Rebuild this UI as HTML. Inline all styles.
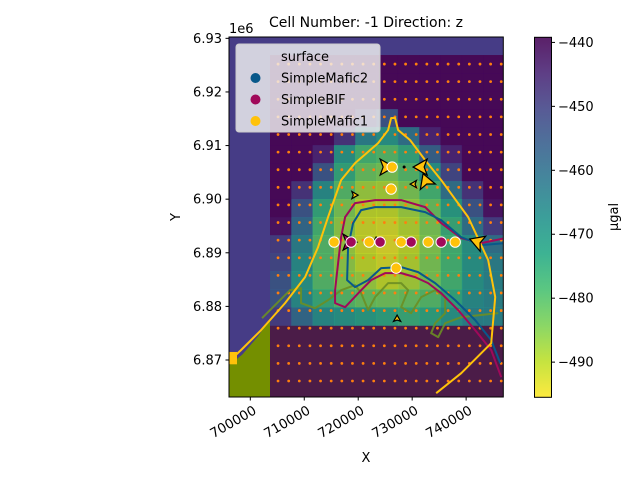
<!DOCTYPE html>
<html><head><meta charset="utf-8">
<style>
body{margin:0;background:#fff;}
svg{display:block;font-family:"DejaVu Sans","Liberation Sans",sans-serif;}
</style></head>
<body>
<svg id="chart" width="640" height="480" viewBox="0 0 640 480" xmlns="http://www.w3.org/2000/svg">
<defs>
<clipPath id="plotclip"><rect x="229" y="37" width="274.3" height="360"/></clipPath>
<linearGradient id="cbgrad" x1="0" y1="0" x2="0" y2="1">
<stop offset="0" stop-color="#440154"/><stop offset="0.1" stop-color="#482475"/><stop offset="0.2" stop-color="#414487"/><stop offset="0.3" stop-color="#355f8d"/><stop offset="0.4" stop-color="#2a788e"/><stop offset="0.5" stop-color="#21918c"/><stop offset="0.6" stop-color="#22a884"/><stop offset="0.7" stop-color="#44bf70"/><stop offset="0.8" stop-color="#7ad151"/><stop offset="0.9" stop-color="#bddf26"/><stop offset="1" stop-color="#fde725"/>
</linearGradient>
</defs>
<g id="plot" clip-path="url(#plotclip)"></g>
<g id="over"></g>
</svg>
<script>
// ---- data ----
const xDomain=[696050,746890];
const yDomain=[6863100,6930250];
const cbDomain=[-439.2,-495.5];
const xTicks=[700000,710000,720000,730000,740000];
const yTicks=[6870000,6880000,6890000,6900000,6910000,6920000,6930000];
const yTickLabels=["6.87","6.88","6.89","6.90","6.91","6.92","6.93"];
const cbTicks=[-440,-450,-460,-470,-480,-490];
// heatmap grid (rows top->bottom, cols left->right); null = background
const gridX0=703650, gridCellW=3950, gridY0=6926880, gridCellH=3360;
const gridValues=[
[-440,-440,-440,-440,-440,-440,-440,-440,-440,-440,-440],
[-440,-440,-440,-440,-440,-440,-440,-440,-440,-440,-440],
[-440,-440,-440,-440,-440,-440,-440,-440,-440,-440,-440],
[-440,-440,-440,-440,-448,-455,-440,-440,-440,-440,-440],
[-440,-440,-440,-448,-465,-470,-462,-445,-440,-440,-440],
[-440,-440,-445,-470,-478,-480,-475,-458,-445,-440,-440],
[-440,-440,-455,-475,-482,-484,-480,-470,-452,-440,-440],
[-440,-448,-468,-480,-487,-488,-484,-478,-462,-448,-440],
[-440,-455,-475,-484,-490,-490,-487,-482,-472,-455,-442],
[-442,-460,-478,-486,-491,-492,-489,-484,-476,-462,-450],
[-450,-465,-480,-487,-491,-493,-490,-485,-478,-470,-462],
[-452,-468,-480,-486,-490,-492,-489,-484,-478,-470,-465],
[-455,-470,-480,-485,-487,-490,-488,-484,-478,-470,-466],
[-455,-468,-476,-480,-482,-483,-482,-480,-475,-468,-466],
[-450,-460,-468,-470,-472,-474,-476,-474,-470,-466,-466],
[null,null,null,null,null,null,null,null,null,null,null]
];
const stationX=[705140,707110,709080,711050,713020,714990,716960,718930,720900,722870,724840,726810,728780,730750,732720,734690,736660,738630,740600,742570,744540,746510];
const stationY=[6925200,6921920,6918630,6915350,6912060,6908780,6905500,6902210,6898930,6895640,6892360,6889080,6885790,6882510,6879220,6875940,6872660,6869370,6866090];
const lineMafic1=[[734450,6863810],[739090,6867540],[744650,6873140],[745390,6881730],[744090,6888630],[740380,6896650],[735380,6903560],[732410,6907290],[729620,6911020],[727400,6912890],[726840,6915130],[726100,6915130],[725540,6912890],[723690,6910460],[719420,6906730],[716830,6903560],[714410,6896650],[712560,6891060],[710150,6885460],[706440,6880610],[701990,6875570],[698270,6871840],[695860,6869600]];
const lineBIF=[[747250,6892740],[742800,6891800],[739090,6892740],[735380,6895540],[732410,6898520],[727960,6899830],[723130,6899830],[719420,6899270],[717570,6896650],[716830,6892920],[716270,6888070],[715710,6883030],[715710,6880610],[717570,6879860],[720540,6883030],[722390,6884900],[724990,6886210],[727960,6886210],[730550,6885460],[732960,6884340],[735380,6882470],[738530,6879300],[741680,6875570],[744650,6871840],[746510,6866800]];
const lineMafic2=[[747250,6891800],[742800,6891430],[739090,6892920],[735380,6896100],[732410,6897590],[727960,6898520],[723130,6898520],[720540,6897960],[719050,6895540],[718120,6891060],[717940,6884900],[719420,6883590],[721830,6884900],[724250,6887140],[727960,6887330],[731110,6886390],[734260,6884340],[737970,6881170],[741680,6877440],[744650,6873700],[746320,6869410]];
const lineOlive=[[702170,6877810],[707360,6883030],[709400,6883410],[709400,6880610],[712000,6879670],[714410,6881170],[716830,6883030],[719420,6883970],[720540,6882470],[721830,6879300],[723130,6881730],[725540,6884340],[727960,6884340],[729250,6883030],[727960,6879860],[729810,6878740],[731670,6881730],[734260,6883030],[736120,6881730],[736120,6878740],[734260,6876870],[733520,6875010],[734820,6874260],[736120,6876870],[739090,6877990],[745950,6878740]];
const ptsMafic1X=[715530,722020,727960,732960,737970,726290,726100,727030];
const ptsMafic1Y=[6892000,6892000,6892000,6892000,6892000,6905990,6901880,6887140];
const ptsBIFX=[718680,724060,729810,735380];
const ptsBIFY=[6892000,6892000,6892000,6892000];
const arrowX=[724990,731850,732590,742240,718120,719240,730370,723320,727210];
const arrowY=[6905990,6905990,6903190,6891990,6891990,6900760,6902810,6892180,6877620];
const arrowAngle=[0,180,250,200,0,0,180,270,270];
const arrowBig=[1,1,1,1,1,0,0,0,0];
const arrowColor=["#ffc20a","#ffc20a","#ffc20a","#ffc20a","#a0095a","#ffc20a","#ffc20a","#ffc20a","#ffc20a"];

// ---- scales ----
const X0=229,X1=503.3,Y0=37,Y1=397;
const sx=v=>X0+(v-xDomain[0])/(xDomain[1]-xDomain[0])*(X1-X0);
const sy=v=>Y1-(v-yDomain[0])/(yDomain[1]-yDomain[0])*(Y1-Y0);
const CBT=37.3,CBB=397.3;
const scb=v=>CBT+(v-cbDomain[0])/(cbDomain[1]-cbDomain[0])*(CBB-CBT);
const vstops=["#440154","#482475","#414487","#355f8d","#2a788e","#21918c","#22a884","#44bf70","#7ad151","#bddf26","#fde725"];
function hex(h){return [1,3,5].map(i=>parseInt(h.substr(i,2),16));}
function viridis(v){let t=(v-cbDomain[0])/(cbDomain[1]-cbDomain[0]);t=Math.max(0,Math.min(1,t));const f=t*10,i=Math.min(9,Math.floor(f)),r=f-i;const a=hex(vstops[i]),b=hex(vstops[i+1]);return "rgb("+a.map((c,k)=>Math.round(c+(b[k]-c)*r)).join(",")+")";}
const NS="http://www.w3.org/2000/svg";
function mk(tag,attrs,parent){const e=document.createElementNS(NS,tag);for(const k in attrs)e.setAttribute(k,attrs[k]);parent.appendChild(e);return e;}
const plot=document.getElementById('plot'),over=document.getElementById('over'),svg=document.getElementById('chart');

// background regions
let e;
e=mk('rect',{x:X0,y:Y0,width:X1-X0,height:Y1-Y0,fill:'#463c86'},plot);

const gx0=sx(gridX0),gy0=sy(gridY0);
e=mk('rect',{x:gx0,y:gy0,width:X1-gx0,height:Y1-gy0,fill:'#4b1c48'},plot);

const cw=sx(gridX0+gridCellW)-gx0,ch=sy(gridY0-gridCellH)-gy0;
gridValues.forEach((row,r)=>row.forEach((v,c)=>{
 if(v===null)return;
 const c2=mk('rect',{x:gx0+c*cw,y:gy0+r*ch,width:cw+0.5,height:ch+0.5,fill:viridis(v),'fill-opacity':0.85},plot);
 
 
}));
// olive polygon lower-left
e=mk('polygon',{points:`${X0},${sy(6869000)} ${sx(698500)},${sy(6871000)} ${sx(701500)},${sy(6874500)} ${gx0},${sy(6877700)} ${gx0},${Y1} ${X0},${Y1}`,fill:'#748f00'},plot);

e=mk('rect',{x:X0,y:sy(6871500),width:8,height:sy(6869200)-sy(6871500),fill:'#ffc20a'},plot);


// stations
stationY.forEach(y=>stationX.forEach(x=>{
 const d=mk('circle',{cx:sx(x),cy:sy(y),r:1.4,fill:'#ff7f0e'},plot);
 
 
}));
// contour lines
function line(pts,col,name,op){const p=mk('polyline',{points:pts.map(q=>sx(q[0])+','+sy(q[1])).join(' '),fill:'none',stroke:col,'stroke-width':2,'stroke-opacity':op,'stroke-linejoin':'round'},plot);
 
 }
line(lineOlive,'#6b8e23','contour-olive',0.9);
line(lineBIF,'#a0095a','contour-simplebif',1);
line(lineMafic2,'#08588a','contour-simplemafic2',1);
line(lineMafic1,'#ffc20a','contour-simplemafic1',1);
// arrows
arrowX.forEach((x,i)=>{
 const s=arrowBig[i]?1:0.45;
 const a=mk('polygon',{points:`${9*s},0 ${-5*s},${-8*s} ${-2*s},0 ${-5*s},${8*s}`,fill:arrowColor[i],stroke:'#000','stroke-width':1.2,transform:`translate(${sx(x)},${sy(arrowY[i])}) rotate(${arrowAngle[i]})`},plot);
 
 
});
e=mk('circle',{cx:sx(728510),cy:sy(6905990),r:1.5,fill:'#000'},plot);

// contact points
ptsBIFX.forEach((x,i)=>{const c=mk('circle',{cx:sx(x),cy:sy(ptsBIFY[i]),r:5.2,fill:'#a0095a',stroke:'#fff','stroke-width':1},plot);
 
 });
ptsMafic1X.forEach((x,i)=>{const c=mk('circle',{cx:sx(x),cy:sy(ptsMafic1Y[i]),r:5.2,fill:'#ffc20a',stroke:'#fff','stroke-width':1},plot);
 
 });

// frame
e=mk('rect',{x:X0,y:Y0,width:X1-X0,height:Y1-Y0,fill:'none',stroke:'#000','stroke-width':1},over);

// x ticks
xTicks.forEach(t=>{const px=sx(t);
 const l=mk('line',{x1:px,x2:px,y1:Y1,y2:Y1+3.5,stroke:'#000'},over);
 
 
 const tx=mk('text',{x:0,y:0,'font-size':13.3,'text-anchor':'end',transform:`translate(${px+7},${Y1+16}) rotate(-30)`},over);
 tx.textContent=String(t);
 
 
});
yTicks.forEach((t,i)=>{const py=sy(t);
 const l=mk('line',{x1:X0-3.5,x2:X0,y1:py,y2:py,stroke:'#000'},over);
 
 
 const tx=mk('text',{x:X0-7,y:py+4.5,'font-size':13,'text-anchor':'end'},over);
 tx.textContent=yTickLabels[i];
 
 
});
// colorbar
e=mk('rect',{x:534.5,y:CBT,width:17,height:CBB-CBT,fill:'url(#cbgrad)','fill-opacity':0.88,stroke:'#000','stroke-width':1},over);

cbTicks.forEach(t=>{const py=scb(t);
 const l=mk('line',{x1:551.5,x2:555,y1:py,y2:py,stroke:'#000'},over);
 
 
 const tx=mk('text',{x:558,y:py+4.5,'font-size':13},over);
 tx.textContent='\u2212'+Math.abs(t);
 
 
});
</script>
<svg style="position:absolute;left:0;top:0" width="640" height="480" viewBox="0 0 640 480" xmlns="http://www.w3.org/2000/svg" font-family="DejaVu Sans, Liberation Sans, sans-serif">
<text x="366" y="27" font-size="14" text-anchor="middle">Cell Number: -1 Direction: z</text>
<text x="229" y="33" font-size="13">1e6</text>
<text x="366" y="462" font-size="13" text-anchor="middle">X</text>
<text x="0" y="0" font-size="13" text-anchor="middle" transform="translate(180,217) rotate(-90)">Y</text>
<text x="0" y="0" font-size="13" text-anchor="middle" transform="translate(618,217) rotate(-90)">μgal</text>
<g>
<rect x="236" y="44" width="144" height="88" rx="3" fill="#f2f2f2" fill-opacity="0.82" stroke="#cccccc"/>
<text x="281" y="61" font-size="13">surface</text>
<circle cx="255.5" cy="78" r="5" fill="#08588a"/>
<text x="281" y="82.5" font-size="13">SimpleMafic2</text>
<circle cx="255.5" cy="99.5" r="5" fill="#a0095a"/>
<text x="281" y="104" font-size="13">SimpleBIF</text>
<circle cx="255.5" cy="121" r="5" fill="#ffc20a"/>
<text x="281" y="125.5" font-size="13">SimpleMafic1</text>
</g>
</svg>
</body></html>
